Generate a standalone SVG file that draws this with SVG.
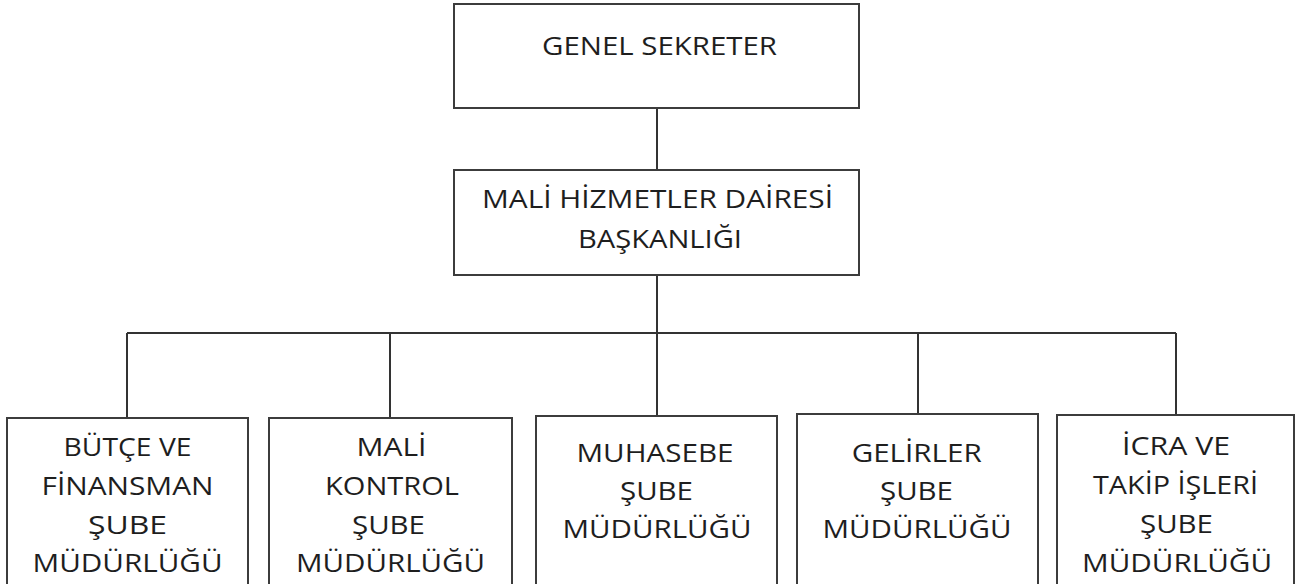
<svg xmlns="http://www.w3.org/2000/svg" width="1297" height="584" viewBox="0 0 1297 584">
<style>
.box{fill:#ffffff;stroke:#3c3c3c;stroke-width:2}
.ln{fill:none;stroke:#333333;stroke-width:2}
.t{font-family:"Open Sans","Liberation Sans",sans-serif;font-size:26px;fill:#1e1e1e;text-anchor:middle}
</style>
<rect width="1297" height="584" fill="#ffffff"/>
<g id="connectors">
<line class="ln" x1="657" y1="108" x2="657" y2="170"/>
<line class="ln" x1="657" y1="275" x2="657" y2="333"/>
<line class="ln" x1="127" y1="333" x2="1176" y2="333"/>
<line class="ln" x1="127" y1="333" x2="127" y2="418"/>
<line class="ln" x1="390" y1="333" x2="390" y2="418"/>
<line class="ln" x1="657" y1="333" x2="657" y2="416"/>
<line class="ln" x1="918" y1="333" x2="918" y2="414"/>
<line class="ln" x1="1176" y1="333" x2="1176" y2="415"/>
</g>
<g id="genel-sekreter">
<rect class="box" x="454" y="4" width="405" height="104"/>
<text class="t" x="659.5" y="55" font-size="27" textLength="235" lengthAdjust="spacingAndGlyphs">GENEL SEKRETER</text>
</g>
<g id="mali-hizmetler">
<rect class="box" x="454" y="170" width="405" height="105"/>
<text class="t" x="657.5" y="208" textLength="351" lengthAdjust="spacingAndGlyphs">MALİ HİZMETLER DAİRESİ</text>
<text class="t" x="660" y="248" textLength="164" lengthAdjust="spacingAndGlyphs">BAŞKANLIĞI</text>
</g>
<g id="butce">
<rect class="box" x="7" y="418" width="241" height="190"/>
<text class="t" x="127.5" y="456" textLength="128" lengthAdjust="spacingAndGlyphs">BÜTÇE VE</text>
<text class="t" x="127.5" y="495" textLength="172" lengthAdjust="spacingAndGlyphs">FİNANSMAN</text>
<text class="t" x="127.5" y="534" textLength="79" lengthAdjust="spacingAndGlyphs">ŞUBE</text>
<text class="t" x="127.5" y="572" textLength="190" lengthAdjust="spacingAndGlyphs">MÜDÜRLÜĞÜ</text>
</g>
<g id="mali-kontrol">
<rect class="box" x="269" y="418" width="243" height="190"/>
<text class="t" x="391.5" y="456" textLength="70" lengthAdjust="spacingAndGlyphs">MALİ</text>
<text class="t" x="392" y="495" textLength="134" lengthAdjust="spacingAndGlyphs">KONTROL</text>
<text class="t" x="388.5" y="534" textLength="73" lengthAdjust="spacingAndGlyphs">ŞUBE</text>
<text class="t" x="390.5" y="572" textLength="189" lengthAdjust="spacingAndGlyphs">MÜDÜRLÜĞÜ</text>
</g>
<g id="muhasebe">
<rect class="box" x="536" y="416" width="241" height="190"/>
<text class="t" x="655" y="462" textLength="157" lengthAdjust="spacingAndGlyphs">MUHASEBE</text>
<text class="t" x="656.5" y="500" textLength="73" lengthAdjust="spacingAndGlyphs">ŞUBE</text>
<text class="t" x="657" y="538" textLength="189" lengthAdjust="spacingAndGlyphs">MÜDÜRLÜĞÜ</text>
</g>
<g id="gelirler">
<rect class="box" x="797" y="414" width="241" height="190"/>
<text class="t" x="916.7" y="462" textLength="130" lengthAdjust="spacingAndGlyphs">GELİRLER</text>
<text class="t" x="916.5" y="500" textLength="73" lengthAdjust="spacingAndGlyphs">ŞUBE</text>
<text class="t" x="917" y="538" textLength="189" lengthAdjust="spacingAndGlyphs">MÜDÜRLÜĞÜ</text>
</g>
<g id="icra">
<rect class="box" x="1057" y="415" width="237" height="190"/>
<text class="t" x="1176" y="455" textLength="108" lengthAdjust="spacingAndGlyphs">İCRA VE</text>
<text class="t" x="1175.5" y="494" textLength="165" lengthAdjust="spacingAndGlyphs">TAKİP İŞLERİ</text>
<text class="t" x="1176.5" y="533" textLength="73" lengthAdjust="spacingAndGlyphs">ŞUBE</text>
<text class="t" x="1177" y="572" textLength="190" lengthAdjust="spacingAndGlyphs">MÜDÜRLÜĞÜ</text>
</g>
</svg>
